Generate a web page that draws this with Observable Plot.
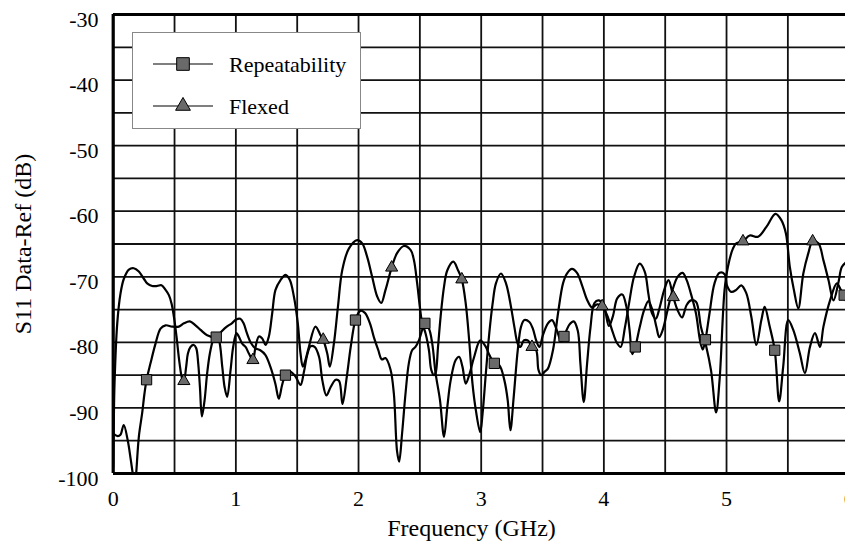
<!DOCTYPE html>
<html><head><meta charset="utf-8">
<script src="https://cdn.jsdelivr.net/npm/d3@7"></script>
<script src="https://cdn.jsdelivr.net/npm/@observablehq/plot@0.6"></script>
<style>
html,body{margin:0;padding:0;background:#fff;overflow:hidden;}
#chart{position:relative;width:845px;height:554px;overflow:hidden;}
</style></head><body><div id="chart"></div>
<script>
const seriesNames = ["Repeatability", "Flexed"];
const xLabel = "Frequency (GHz)";
const yLabel = "S11 Data-Ref (dB)";
const xTicks = [0, 1, 2, 3, 4, 5, 6];
const yTicks = [-100, -90, -80, -70, -60, -50, -40, -30];
const xGrid = [0, 0.5, 1, 1.5, 2, 2.5, 3, 3.5, 4, 4.5, 5, 5.5, 6];
const yGrid = [-100, -95, -90, -85, -80, -75, -70, -65, -60, -55, -50, -45, -40, -35, -30];

const repFreq = [0,0.037,0.059,0.086,0.118,0.144,0.163,0.175,0.185,0.209,0.236,0.255,0.272,0.304,0.345,0.386,0.427,0.481,0.535,0.576,0.625,0.671,0.712,0.766,0.840,0.885,0.926,0.967,1.003,1.036,1.063,1.090,1.123,1.158,1.199,1.240,1.281,1.322,1.350,1.377,1.404,1.445,1.486,1.527,1.555,1.582,1.609,1.642,1.678,1.705,1.738,1.773,1.814,1.842,1.869,1.904,1.937,1.975,2.014,2.052,2.093,2.128,2.161,2.190,2.220,2.260,2.288,2.314,2.331,2.355,2.383,2.410,2.437,2.464,2.492,2.519,2.541,2.574,2.601,2.628,2.664,2.697,2.724,2.751,2.792,2.820,2.847,2.874,2.902,2.943,2.992,3.038,3.066,3.107,3.148,3.189,3.216,3.238,3.265,3.298,3.325,3.352,3.393,3.421,3.448,3.475,3.503,3.544,3.577,3.612,3.653,3.675,3.719,3.754,3.787,3.809,3.836,3.863,3.891,3.923,3.959,4.000,4.041,4.074,4.109,4.150,4.183,4.210,4.232,4.256,4.292,4.328,4.363,4.396,4.429,4.451,4.478,4.519,4.560,4.601,4.642,4.675,4.710,4.751,4.784,4.806,4.828,4.861,4.902,4.943,4.984,5.003,5.038,5.079,5.120,5.161,5.202,5.243,5.284,5.311,5.352,5.393,5.429,5.462,5.503,5.544,5.598,5.639,5.680,5.721,5.762,5.790,5.844,5.899,5.932,5.959,5.995];
const repDb = [-93.9,-94.3,-94.1,-92.6,-94.9,-98.0,-100.5,-102,-100.5,-94.4,-90.8,-87.8,-85.7,-83.2,-80.2,-77.9,-77.4,-77.6,-77.6,-77.1,-76.8,-77.4,-78.1,-78.9,-79.2,-78.3,-77.6,-77.1,-76.5,-76.4,-77.1,-78.6,-80.1,-80.9,-81.2,-81.9,-83.7,-86.3,-88.6,-86.5,-85.0,-84.5,-85.2,-86.5,-84.5,-81.9,-80.6,-80.7,-82.2,-85.8,-88.1,-86.8,-85.7,-85.9,-89.4,-85.3,-80.6,-76.6,-75.2,-75.5,-77.1,-79.4,-81.2,-82.6,-82.4,-84.1,-87.8,-96.6,-98.2,-93.9,-87.8,-83.2,-81.2,-80.7,-79.7,-78.1,-77.1,-77.9,-80.2,-84.7,-88.8,-94.4,-89.8,-85.8,-82.7,-82.2,-83.7,-86.3,-85.0,-82.2,-79.7,-80.7,-81.9,-83.2,-83.5,-85.8,-88.8,-93.4,-88.3,-81.2,-77.6,-76.6,-76.9,-77.9,-79.7,-80.7,-78.9,-77.1,-76.6,-77.9,-79.9,-79.1,-77.3,-76.8,-78.2,-83.3,-89.1,-83.3,-77.7,-74.0,-73.6,-74.5,-77.5,-76.0,-73.3,-72.7,-74.5,-78.2,-81.8,-80.7,-77.7,-75.1,-73.7,-75.1,-77.7,-79.2,-78.2,-75.1,-72.0,-70.0,-69.4,-70.5,-72.6,-75.6,-79.7,-81.1,-79.6,-75.6,-71.0,-69.4,-69.6,-71.3,-72.3,-72.0,-71.3,-72.5,-76.1,-80.4,-76.6,-74.6,-77.6,-81.2,-89.0,-83.7,-76.6,-78.1,-81.7,-84.7,-80.7,-78.6,-80.7,-77.6,-73.6,-71.0,-72.0,-72.8,-75.6];

const flexFreq = [0,0.005,0.011,0.033,0.060,0.087,0.128,0.168,0.209,0.250,0.277,0.318,0.359,0.394,0.427,0.454,0.476,0.495,0.516,0.541,0.562,0.576,0.595,0.609,0.630,0.658,0.677,0.693,0.707,0.723,0.745,0.766,0.788,0.815,0.834,0.861,0.889,0.908,0.929,0.957,0.978,1.005,1.024,1.052,1.079,1.106,1.139,1.160,1.188,1.215,1.242,1.269,1.296,1.323,1.364,1.405,1.440,1.473,1.505,1.527,1.546,1.570,1.595,1.649,1.690,1.712,1.745,1.766,1.799,1.832,1.867,1.921,1.989,2.030,2.071,2.111,2.152,2.185,2.220,2.270,2.314,2.369,2.424,2.451,2.478,2.500,2.519,2.546,2.574,2.593,2.615,2.628,2.648,2.669,2.697,2.724,2.773,2.811,2.842,2.874,2.902,2.929,2.956,2.992,3.011,3.038,3.066,3.093,3.120,3.161,3.202,3.243,3.270,3.298,3.320,3.347,3.380,3.414,3.448,3.467,3.489,3.516,3.544,3.585,3.626,3.667,3.699,3.740,3.781,3.822,3.863,3.904,3.945,3.986,4.027,4.068,4.104,4.137,4.172,4.205,4.246,4.292,4.333,4.363,4.391,4.423,4.456,4.492,4.527,4.566,4.601,4.637,4.675,4.710,4.751,4.792,4.833,4.874,4.915,4.943,4.984,5.011,5.052,5.079,5.134,5.189,5.257,5.325,5.399,5.448,5.484,5.516,5.549,5.585,5.626,5.667,5.702,5.749,5.790,5.831,5.872,5.913,5.940,5.981,6.0];
const flexDb = [-99,-92,-86.2,-77.1,-72.5,-70.3,-68.9,-68.7,-69.2,-70.3,-71.0,-71.4,-71.4,-71.3,-72.0,-72.8,-74.1,-76.1,-79.1,-83.2,-85.5,-85.9,-83.7,-81.7,-80.7,-80.4,-80.9,-83.2,-86.8,-91.3,-88.8,-84.7,-81.7,-79.6,-78.9,-79.6,-83.7,-86.8,-88.3,-84.2,-80.7,-78.6,-79.1,-80.2,-80.7,-81.7,-82.7,-80.7,-79.1,-79.4,-80.4,-79.1,-75.6,-72.0,-70.5,-69.7,-70.5,-73.0,-77.1,-81.7,-83.7,-82.5,-80.7,-77.6,-78.9,-79.6,-81.7,-83.7,-80.2,-74.6,-69.0,-65.7,-64.4,-64.9,-67.0,-70.0,-73.0,-74.0,-72.0,-68.6,-66.4,-65.3,-65.9,-67.4,-71.0,-74.6,-77.1,-78.6,-81.2,-84.2,-85.0,-84.7,-80.7,-76.1,-71.5,-69.0,-67.7,-69.0,-70.4,-74.1,-79.7,-86.3,-90.3,-93.7,-90.9,-84.7,-78.6,-74.1,-71.0,-69.5,-71.0,-74.6,-77.6,-80.2,-80.7,-79.7,-79.7,-80.7,-81.2,-84.2,-85.0,-84.5,-84.0,-81.2,-75.6,-71.0,-69.5,-68.8,-69.4,-71.3,-73.5,-74.7,-74.2,-74.5,-75.9,-78.2,-80.0,-80.7,-77.7,-74.1,-70.0,-68.0,-69.2,-72.6,-75.5,-76.4,-74.6,-72.0,-70.5,-73.1,-75.1,-76.2,-74.3,-73.6,-73.8,-77.7,-80.5,-84.3,-90.7,-85.8,-72.0,-68.5,-65.7,-64.9,-64.6,-63.7,-63.9,-62.4,-60.4,-61.4,-63.4,-68.5,-72.0,-74.8,-69.5,-66.4,-64.6,-64.9,-67.5,-70.5,-73.6,-70.8,-68.5,-67.7,-67.5];

const repMarkFreq = [0.272, 0.840, 1.404, 1.975, 2.541, 3.107, 3.675, 4.256, 4.828, 5.393, 5.959];
const repMarkDb = [-85.7, -79.2, -85.0, -76.6, -77.1, -83.2, -79.1, -80.7, -79.6, -81.2, -72.8];
const flexMarkFreq = [0.576, 1.139, 1.712, 2.270, 2.842, 3.414, 3.986, 4.566, 5.134, 5.702];
const flexMarkDb = [-85.9, -82.7, -79.6, -68.6, -70.4, -80.7, -74.5, -73.1, -64.6, -64.6];

const rep = repFreq.map((f, i) => ({f, db: repDb[i]}));
const flex = flexFreq.map((f, i) => ({f, db: flexDb[i]}));
const repMarks = repMarkFreq.map((f, i) => ({f, db: repMarkDb[i]}));
const flexMarks = flexMarkFreq.map((f, i) => ({f, db: flexMarkDb[i]}));

const FONT = "'Liberation Serif', 'Times New Roman', serif";
const TICK_FS = 22;
const TITLE_FS = 24;
const LEG_FS = 22;
const fmt = d => String(d);

const svg = Plot.plot({
  width: 845, height: 554,
  marginLeft: 113, marginRight: 0, marginTop: 14, marginBottom: 81,
  style: {fontFamily: FONT, fontSize: TICK_FS + "px", background: "white", color: "black", overflow: "hidden"},
  x: {domain: [0, 6], range: [112.7, 848.7]},
  y: {domain: [-100, -30], range: [473, 14]},
  marks: [
    Plot.ruleX(xGrid, {stroke: "#111", strokeWidth: 1.8}),
    Plot.ruleY(yGrid, {stroke: "#111", strokeWidth: 1.8}),
    Plot.line(rep, {x: "f", y: "db", stroke: "black", strokeWidth: 2.2, curve: "catmull-rom", clip: true}),
    Plot.line(flex, {x: "f", y: "db", stroke: "black", strokeWidth: 2.2, curve: "catmull-rom", clip: true}),
    Plot.dot(repMarks, {x: "f", y: "db", symbol: "square", r: 5.8, fill: "#6a6a6a", stroke: "black", strokeWidth: 1}),
    Plot.dot(flexMarks, {x: "f", y: "db", symbol: "triangle", r: 4.5, fill: "#6a6a6a", stroke: "black", strokeWidth: 1}),
    Plot.ruleX([0], {stroke: "black", strokeWidth: 3.2}),
    Plot.ruleY([-100, -30], {stroke: "black", strokeWidth: 3.2}),
    Plot.axisX(xTicks, {tickSize: 0, tickPadding: 17, fontSize: TICK_FS, tickFormat: fmt, label: null}),
    Plot.axisY(yTicks, {tickSize: 0, tickPadding: 15, dy: 5, fontSize: TICK_FS, tickFormat: fmt, label: null}),
    Plot.text([xLabel], {frameAnchor: "bottom", dx: -8, dy: 62, fontSize: TITLE_FS, textAnchor: "middle"}),
    Plot.text([yLabel], {frameAnchor: "left", dx: -90, rotate: -90, fontSize: TITLE_FS, textAnchor: "middle"})
  ]
});

// legend box
const g = d3.select(svg).append("g")
  .attr("font-family", FONT).attr("font-size", LEG_FS).attr("text-anchor", "start");
g.append("rect").attr("x", 132.5).attr("y", 32.5).attr("width", 228).attr("height", 96)
  .attr("fill", "white").attr("stroke", "#888").attr("stroke-width", 1);
const entries = [
  {name: seriesNames[0], y: 64, sym: d3.symbolSquare, size: 160},
  {name: seriesNames[1], y: 106, sym: d3.symbolTriangle, size: 95}
];
for (const e of entries) {
  g.append("line").attr("x1", 153).attr("x2", 213).attr("y1", e.y).attr("y2", e.y)
    .attr("stroke", "black").attr("stroke-width", 1.2);
  g.append("path").attr("d", d3.symbol(e.sym, e.size)())
    .attr("transform", `translate(183,${e.y})`).attr("fill", "#6a6a6a").attr("stroke", "black");
  g.append("text").attr("x", 229).attr("y", e.y).attr("dy", "0.35em")
    .attr("text-anchor", "start").attr("fill", "black").text(e.name);
}
document.getElementById("chart").appendChild(svg);
</script></body></html>
